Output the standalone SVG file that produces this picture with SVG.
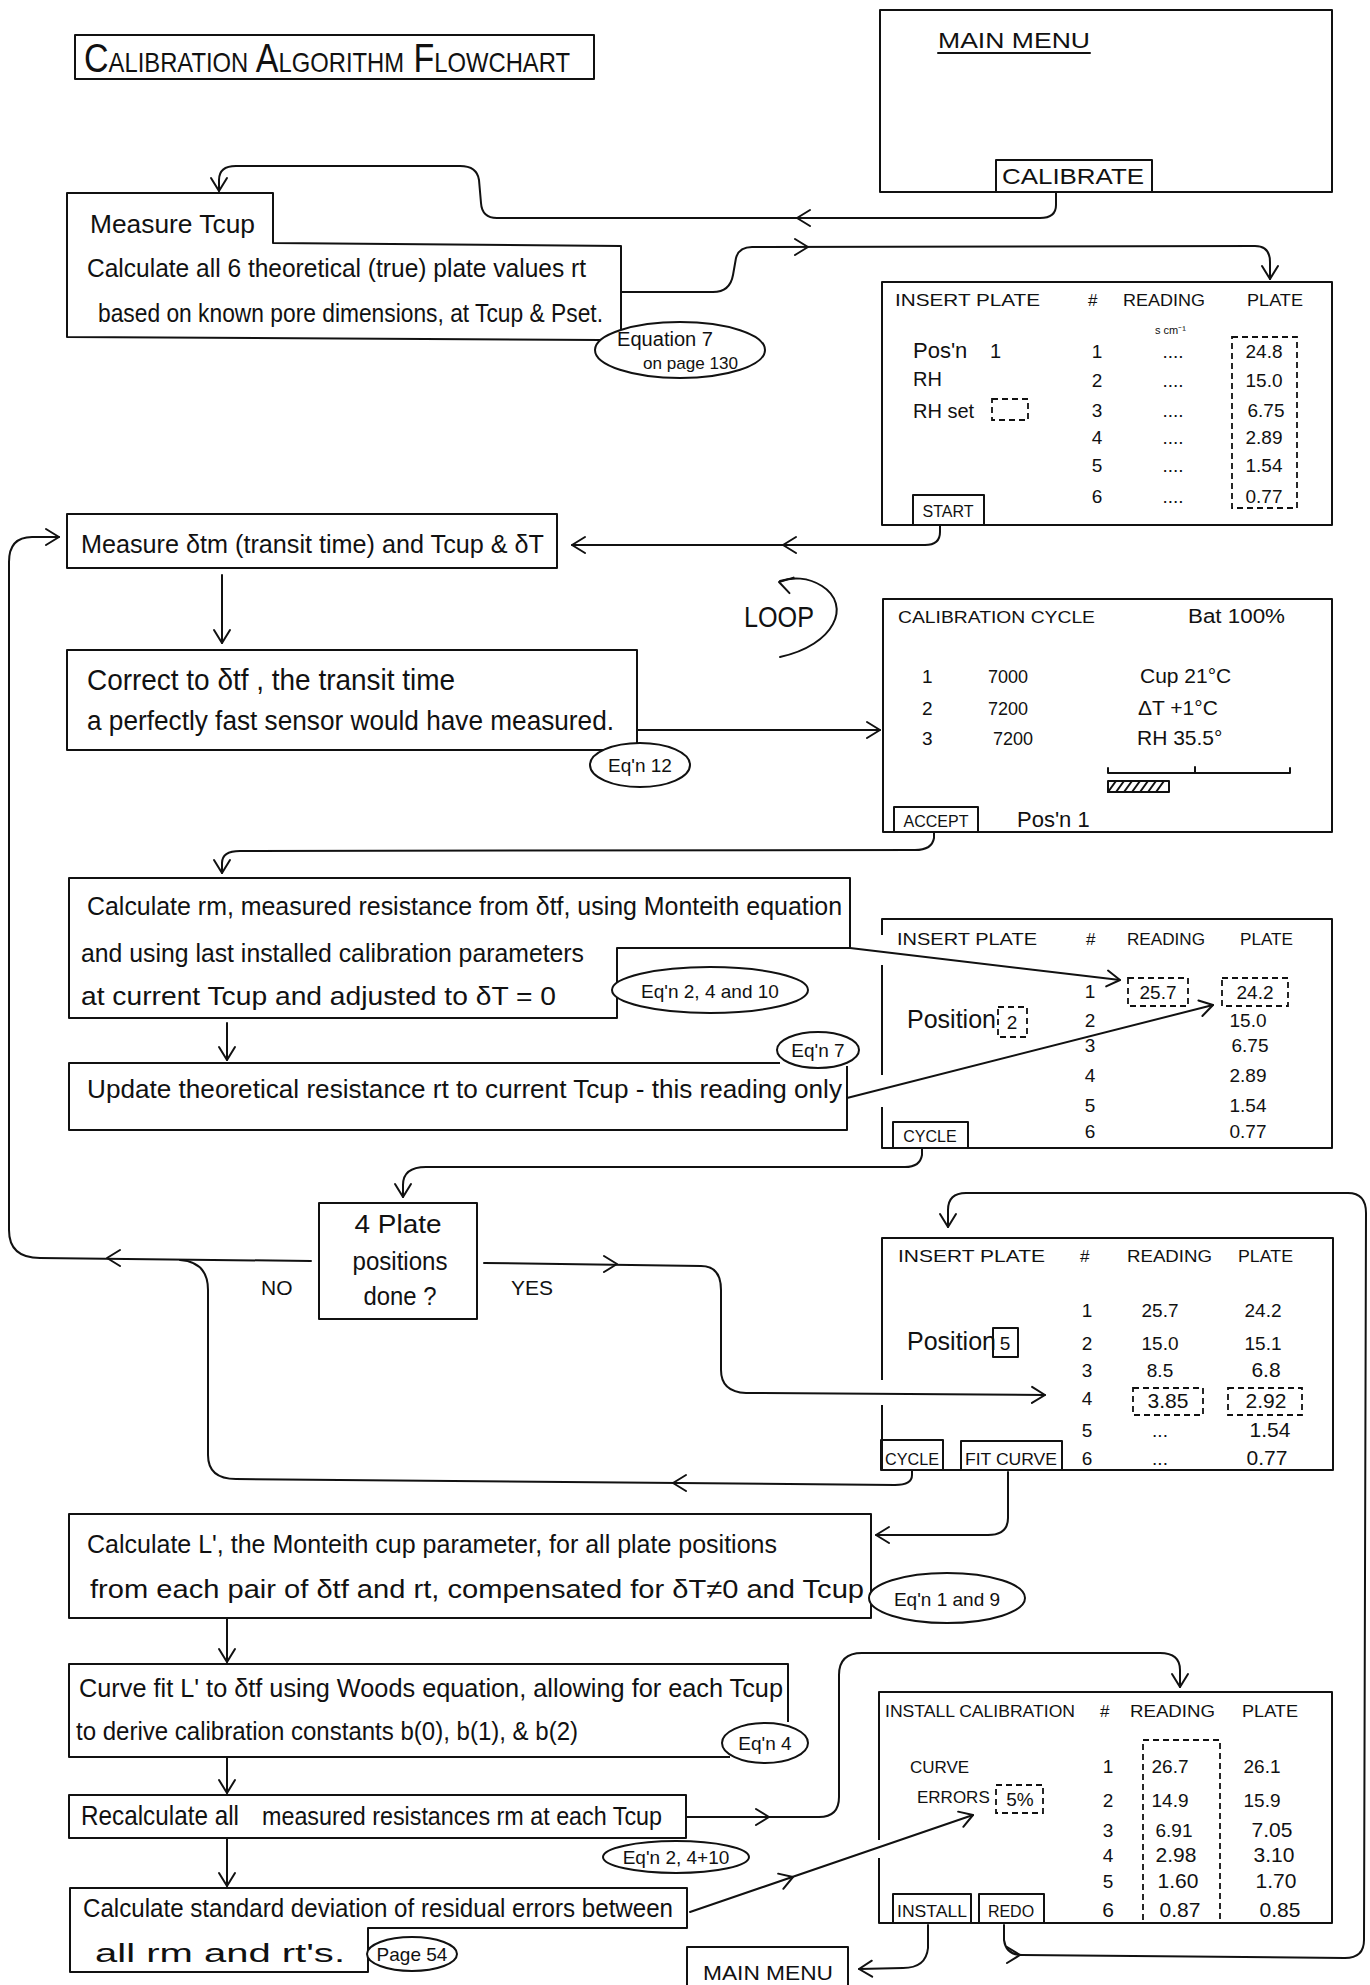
<svg xmlns="http://www.w3.org/2000/svg" xmlns:xlink="http://www.w3.org/1999/xlink" width="1370" height="1985" viewBox="0 0 1370 1985">
<style>
.ln{fill:none;stroke:#111;stroke-width:2;stroke-linecap:round;stroke-linejoin:round}
.bx{fill:none;stroke:#111;stroke-width:2;stroke-linejoin:round}
.ov{fill:#fff;stroke:#111;stroke-width:2}
.dsh{fill:none;stroke:#111;stroke-width:1.8;stroke-dasharray:6 4}
text{font-family:"Liberation Sans",Arial,sans-serif;fill:#111}
.h{font-size:26px}
.sc{font-size:17px}
.n{font-size:19px}
.m{text-anchor:middle}
.e{font-size:19px;text-anchor:middle}
.b{font-size:16px;text-anchor:middle}
</style>
<defs>
<marker id="arr" viewBox="-15 -10 17 20" refX="0" refY="0" markerWidth="17" markerHeight="20" markerUnits="userSpaceOnUse" orient="auto">
<path d="M-13,-8 L0,0 L-13,8" fill="none" stroke="#111" stroke-width="2" stroke-linecap="round" stroke-linejoin="round"/>
</marker>
<path id="ah" d="M-13,-8 L0,0 L-13,8" fill="none" stroke="#111" stroke-width="2" stroke-linecap="round" stroke-linejoin="round"/>
</defs>
<rect width="1370" height="1985" fill="#fff"/>

<g id="connectors">
<path class="ln" marker-end="url(#arr)" d="M1056,192 L1056,205 Q1056,218 1040,218 L497,218 Q482,218 481,203 L479,180 Q477,166 460,166 L236,166 Q219,166 219,180 L219,191"/>
<use xlink:href="#ah" transform="translate(797,218) rotate(180)"/>
<path class="ln" marker-end="url(#arr)" d="M621,292 L713,292 Q730,292 733,275 L736,258 Q739,247 752,247 L1255,246 Q1270,246 1270,262 L1270,279"/>
<use xlink:href="#ah" transform="translate(808,247)"/>
<path class="ln" marker-end="url(#arr)" d="M940,525 L940,532 Q940,545 925,545 L572,545"/>
<use xlink:href="#ah" transform="translate(783,545) rotate(180)"/>
<path class="ln" marker-end="url(#arr)" d="M311,1261 L40,1258 Q9,1258 9,1230 L9,562 Q9,537 32,537 L59,537"/>
<use xlink:href="#ah" transform="translate(107,1258) rotate(180)"/>
<path class="ln" marker-end="url(#arr)" d="M222,575 L222,643"/>
<path class="ln" marker-end="url(#arr)" d="M637,730 L880,730"/>
<path class="ln" d="M780,657 C835,645 852,605 822,586 C808,577 792,577 780,581"/>
<use xlink:href="#ah" transform="translate(779,582) rotate(195)"/>
<path class="ln" marker-end="url(#arr)" d="M934,832 L934,838 Q932,850 915,850 L240,851 Q222,851 222,863 L222,873"/>
<path class="ln" marker-end="url(#arr)" d="M227,1023 L227,1060"/>
<path class="ln" marker-end="url(#arr)" d="M850,948 L1120,980"/>
<path class="ln" marker-end="url(#arr)" d="M847,1098 L1213,1005"/>
<path class="ln" marker-end="url(#arr)" d="M922,1148 L922,1155 Q920,1167 905,1167 L426,1167 Q403,1167 403,1185 L403,1197"/>
<path class="ln" marker-end="url(#arr)" d="M484,1263 L701,1266 Q721,1266 721,1290 L721,1370 Q721,1392 746,1393 L1045,1395"/>
<use xlink:href="#ah" transform="translate(617,1264)"/>
<path class="ln" d="M912,1470 L912,1475 Q912,1485 895,1485 L236,1479 Q208,1479 208,1455 L208,1290 Q208,1262 180,1260"/>
<use xlink:href="#ah" transform="translate(673,1483) rotate(180)"/>
<path class="ln" marker-end="url(#arr)" d="M1008,1472 L1008,1518 Q1008,1535 988,1535 L876,1535"/>
<path class="ln" marker-end="url(#arr)" d="M227,1618 L227,1662"/>
<path class="ln" marker-end="url(#arr)" d="M227,1757 L227,1793"/>
<path class="ln" marker-end="url(#arr)" d="M687,1817 L819,1817 Q839,1817 839,1797 L839,1675 Q839,1653 862,1653 L1160,1653 Q1180,1653 1180,1670 L1180,1687"/>
<use xlink:href="#ah" transform="translate(769,1817)"/>
<path class="ln" marker-end="url(#arr)" d="M227,1838 L227,1886"/>
<path class="ln" marker-end="url(#arr)" d="M690,1912 L973,1815"/>
<use xlink:href="#ah" transform="translate(793,1877) rotate(-18.9)"/>
<path class="ln" marker-end="url(#arr)" d="M928,1925 L928,1948 Q926,1968 903,1968 L859,1969"/>
<path class="ln" marker-end="url(#arr)" d="M1004,1925 L1004,1940 Q1006,1955 1022,1955 L1345,1958 Q1364,1958 1364,1940 L1366,1213 Q1366,1193 1348,1193 L966,1193 Q948,1193 948,1210 L948,1227"/>
<use xlink:href="#ah" transform="translate(1020,1955)"/>
</g>

<g id="title">
<rect class="bx" x="75" y="35" width="519" height="44"/>
<text x="84" y="72" textLength="486" lengthAdjust="spacingAndGlyphs" font-size="40" font-variant="small-caps" style="font-variant:small-caps">Calibration Algorithm Flowchart</text>
</g>

<g id="main-menu">
<rect class="bx" x="880" y="10" width="452" height="182"/>
<text x="938" y="48" font-size="22" textLength="152" lengthAdjust="spacingAndGlyphs">MAIN MENU</text>
<line class="ln" x1="938" y1="53" x2="1090" y2="53"/>
<rect class="bx" x="996" y="160" width="156" height="32" fill="#fff"/>
<text x="1002" y="184" font-size="22" textLength="142" lengthAdjust="spacingAndGlyphs">CALIBRATE</text>
</g>

<g id="measure-tcup">
<path class="bx" d="M600,340 L67,337 L67,193 L273,193 L273,243 L621,246 L621,335"/>
<text class="h" x="90" y="233" textLength="165" lengthAdjust="spacingAndGlyphs">Measure  Tcup</text>
<text class="h" x="87" y="277" textLength="499" lengthAdjust="spacingAndGlyphs">Calculate all 6 theoretical (true) plate values rt</text>
<text class="h" x="98" y="322" textLength="505" lengthAdjust="spacingAndGlyphs">based on known pore dimensions, at Tcup &amp; Pset.</text>
<ellipse class="ov" cx="680" cy="350" rx="85" ry="28"/>
<text x="617" y="346" font-size="20" textLength="96" lengthAdjust="spacingAndGlyphs">Equation 7</text>
<text x="643" y="369" font-size="17" textLength="95" lengthAdjust="spacingAndGlyphs">on page 130</text>
</g>

<g id="screen-insert-1">
<rect class="bx" x="882" y="282" width="450" height="243"/>
<text class="sc" x="895" y="306" textLength="145" lengthAdjust="spacingAndGlyphs">INSERT  PLATE</text>
<text class="sc" x="1088" y="306">#</text>
<text class="sc" x="1123" y="306" textLength="82" lengthAdjust="spacingAndGlyphs">READING</text>
<text class="sc" x="1247" y="306" textLength="56" lengthAdjust="spacingAndGlyphs">PLATE</text>
<text x="1155" y="334" font-size="11">s cm⁻¹</text>
<text x="913" y="358" font-size="22">Pos'n</text>
<text x="990" y="358" font-size="20">1</text>
<text x="913" y="386" font-size="20">RH</text>
<text x="913" y="418" font-size="20">RH set</text>
<rect class="dsh" x="992" y="399" width="36" height="21"/>
<g class="n m">
<text x="1097" y="358">1</text><text x="1097" y="387">2</text><text x="1097" y="417">3</text><text x="1097" y="444">4</text><text x="1097" y="472">5</text><text x="1097" y="503">6</text>
<text x="1173" y="358">....</text><text x="1173" y="387">....</text><text x="1173" y="417">....</text><text x="1173" y="444">....</text><text x="1173" y="472">....</text><text x="1173" y="503">....</text>
<text x="1264" y="358">24.8</text><text x="1264" y="387">15.0</text><text x="1266" y="417">6.75</text><text x="1264" y="444">2.89</text><text x="1264" y="472">1.54</text><text x="1264" y="503">0.77</text>
</g>
<rect class="dsh" x="1232" y="337" width="65" height="171"/>
<rect class="bx" x="913" y="495" width="71" height="30" fill="#fff"/>
<text class="b" x="948" y="517">START</text>
</g>

<g id="measure-dtm">
<rect class="bx" x="67" y="514" width="490" height="54"/>
<text class="h" x="81" y="553" textLength="463" lengthAdjust="spacingAndGlyphs">Measure  δtm (transit time)  and  Tcup &amp; δT</text>
</g>

<g id="loop-label">
<text x="744" y="627" font-size="29" textLength="70" lengthAdjust="spacingAndGlyphs">LOOP</text>
</g>

<g id="correct">
<rect class="bx" x="67" y="650" width="570" height="100"/>
<text x="87" y="690" font-size="30" textLength="368" lengthAdjust="spacingAndGlyphs">Correct to δtf , the transit time</text>
<text x="87" y="730" font-size="27" textLength="527" lengthAdjust="spacingAndGlyphs">a perfectly fast sensor would have measured.</text>
<ellipse class="ov" cx="640" cy="765" rx="50" ry="22"/>
<text class="e" x="640" y="772" font-size="20">Eq'n 12</text>
</g>

<g id="screen-cycle">
<rect class="bx" x="883" y="599" width="449" height="233"/>
<text class="sc" x="898" y="623" textLength="197" lengthAdjust="spacingAndGlyphs">CALIBRATION  CYCLE</text>
<text x="1188" y="623" font-size="20" textLength="97" lengthAdjust="spacingAndGlyphs">Bat 100%</text>
<text x="922" y="683" font-size="19">1</text><text x="988" y="683" font-size="18">7000</text>
<text x="922" y="715" font-size="19">2</text><text x="988" y="715" font-size="18">7200</text>
<text x="922" y="745" font-size="19">3</text><text x="993" y="745" font-size="18">7200</text>
<text x="1140" y="683" font-size="21">Cup  21°C</text>
<text x="1138" y="715" font-size="21">ΔT  +1°C</text>
<text x="1137" y="745" font-size="21">RH  35.5°</text>
<path class="ln" d="M1108,768 L1108,773 L1290,773 L1290,768 M1195,773 L1195,767"/>
<rect class="bx" x="1108" y="781" width="61" height="11"/>
<path class="ln" stroke-width="1.5" d="M1108,792 L1116,781 M1116,792 L1124,781 M1124,792 L1132,781 M1132,792 L1140,781 M1140,792 L1148,781 M1148,792 L1156,781 M1156,792 L1164,781"/>
<rect class="bx" x="894" y="807" width="84" height="25" fill="#fff"/>
<text class="b" x="936" y="827">ACCEPT</text>
<text x="1017" y="827" font-size="22">Pos'n 1</text>
</g>

<g id="calc-rm">
<path class="bx" d="M69,878 L850,878 L850,948 L617,948 L617,1018 L69,1018 Z"/>
<text class="h" x="87" y="915" textLength="755" lengthAdjust="spacingAndGlyphs">Calculate rm, measured resistance from δtf, using Monteith equation</text>
<text class="h" x="81" y="962" textLength="503" lengthAdjust="spacingAndGlyphs">and using last installed calibration parameters</text>
<text class="h" x="81" y="1005" textLength="475" lengthAdjust="spacingAndGlyphs">at current Tcup and adjusted to δT = 0</text>
<ellipse class="ov" cx="710" cy="990" rx="98" ry="23"/>
<text class="e" x="710" y="998" font-size="21">Eq'n 2, 4 and 10</text>
</g>

<g id="update">
<path class="bx" d="M780,1063 L69,1063 L69,1130 L847,1130 L847,1066"/>
<text class="h" x="87" y="1098" textLength="755" lengthAdjust="spacingAndGlyphs">Update  theoretical resistance rt to current Tcup - this reading only</text>
<ellipse class="ov" cx="818" cy="1050" rx="41" ry="18"/>
<text class="e" x="818" y="1057" font-size="18">Eq'n 7</text>
</g>

<g id="screen-insert-2">
<path class="bx" d="M882,935 L882,919 L1332,919 L1332,1148 L882,1148 L882,1107 M882,1075 L882,965"/>
<text class="sc" x="897" y="945" textLength="140" lengthAdjust="spacingAndGlyphs">INSERT PLATE</text>
<text class="sc" x="1086" y="945">#</text>
<text class="sc" x="1127" y="945" textLength="78" lengthAdjust="spacingAndGlyphs">READING</text>
<text class="sc" x="1240" y="945" textLength="53" lengthAdjust="spacingAndGlyphs">PLATE</text>
<text x="907" y="1028" font-size="25">Position</text>
<rect class="dsh" x="998" y="1007" width="29" height="30"/>
<text class="n m" x="1012" y="1029">2</text>
<g class="n m">
<text x="1090" y="998">1</text><text x="1090" y="1027">2</text><text x="1090" y="1052">3</text><text x="1090" y="1082">4</text><text x="1090" y="1112">5</text><text x="1090" y="1138">6</text>
<text x="1158" y="999">25.7</text><text x="1255" y="999">24.2</text>
<text x="1248" y="1027">15.0</text><text x="1250" y="1052">6.75</text><text x="1248" y="1082">2.89</text><text x="1248" y="1112">1.54</text><text x="1248" y="1138">0.77</text>
</g>
<rect class="dsh" x="1128" y="978" width="60" height="28"/>
<rect class="dsh" x="1222" y="978" width="66" height="28"/>
<rect class="bx" x="893" y="1122" width="75" height="26" fill="#fff"/>
<text class="b" x="930" y="1142">CYCLE</text>
</g>

<g id="decision">
<rect class="bx" x="319" y="1203" width="158" height="116"/>
<text class="h m" x="398" y="1233" textLength="87" lengthAdjust="spacingAndGlyphs">4 Plate</text>
<text class="h m" x="400" y="1270" textLength="95" lengthAdjust="spacingAndGlyphs">positions</text>
<text class="h m" x="400" y="1305" textLength="73" lengthAdjust="spacingAndGlyphs">done ?</text>
<text x="261" y="1295" font-size="21">NO</text>
<text x="511" y="1295" font-size="21">YES</text>
</g>

<g id="screen-insert-3">
<path class="bx" d="M882,1380 L882,1238 L1333,1238 L1333,1470 L882,1470 L882,1405"/>
<text class="sc" x="898" y="1262" textLength="147" lengthAdjust="spacingAndGlyphs">INSERT  PLATE</text>
<text class="sc" x="1080" y="1262">#</text>
<text class="sc" x="1127" y="1262" textLength="85" lengthAdjust="spacingAndGlyphs">READING</text>
<text class="sc" x="1238" y="1262" textLength="55" lengthAdjust="spacingAndGlyphs">PLATE</text>
<text x="907" y="1350" font-size="25">Position</text>
<rect class="bx" x="993" y="1328" width="25" height="29"/>
<text class="n m" x="1005" y="1350">5</text>
<g class="n m">
<text x="1087" y="1317">1</text><text x="1087" y="1350">2</text><text x="1087" y="1377">3</text><text x="1087" y="1405">4</text><text x="1087" y="1437">5</text><text x="1087" y="1465">6</text>
<text x="1160" y="1317">25.7</text><text x="1160" y="1350">15.0</text><text x="1160" y="1377">8.5</text><text x="1168" y="1408" font-size="21">3.85</text><text x="1160" y="1437">...</text><text x="1160" y="1465">...</text>
<text x="1263" y="1317">24.2</text><text x="1263" y="1350">15.1</text><text x="1266" y="1377" font-size="21">6.8</text><text x="1266" y="1408" font-size="21">2.92</text><text x="1270" y="1437" font-size="21">1.54</text><text x="1267" y="1465" font-size="21">0.77</text>
</g>
<rect class="dsh" x="1133" y="1388" width="70" height="27"/>
<rect class="dsh" x="1228" y="1388" width="74" height="27"/>
<rect class="bx" x="881" y="1440" width="62" height="30" fill="#fff"/>
<text class="b" x="912" y="1465" textLength="54" lengthAdjust="spacingAndGlyphs">CYCLE</text>
<rect class="bx" x="961" y="1441" width="101" height="29" fill="#fff"/>
<text class="b" x="1011" y="1465" textLength="92" lengthAdjust="spacingAndGlyphs">FIT CURVE</text>
</g>

<g id="calc-l">
<rect class="bx" x="69" y="1514" width="802" height="104"/>
<text class="h" x="87" y="1553" textLength="690" lengthAdjust="spacingAndGlyphs">Calculate L', the Monteith cup parameter,  for all plate positions</text>
<text class="h" x="90" y="1598" textLength="774" lengthAdjust="spacingAndGlyphs">from each pair of δtf and rt, compensated for δT≠0 and Tcup</text>
<ellipse class="ov" cx="947" cy="1598" rx="78" ry="25"/>
<text class="e" x="947" y="1606" font-size="22">Eq'n 1 and 9</text>
</g>

<g id="curve-fit">
<path class="bx" d="M788,1722 L788,1664 L69,1664 L69,1757 L730,1757"/>
<text class="h" x="79" y="1697" textLength="704" lengthAdjust="spacingAndGlyphs">Curve fit L' to δtf using Woods equation, allowing for each Tcup</text>
<text class="h" x="76" y="1740" textLength="502" lengthAdjust="spacingAndGlyphs">to derive calibration constants b(0), b(1), &amp; b(2)</text>
<ellipse class="ov" cx="765" cy="1743" rx="43" ry="20"/>
<text class="e" x="765" y="1750">Eq'n 4</text>
</g>

<g id="recalc">
<rect class="bx" x="69" y="1795" width="617" height="43"/>
<text x="81" y="1825" font-size="28" textLength="158" lengthAdjust="spacingAndGlyphs">Recalculate  all</text>
<text class="h" x="262" y="1825" textLength="400" lengthAdjust="spacingAndGlyphs">measured resistances rm at each Tcup</text>
<ellipse class="ov" cx="676" cy="1857" rx="73" ry="16"/>
<text class="e" x="676" y="1864">Eq'n 2, 4+10</text>
</g>

<g id="calc-std">
<path class="bx" d="M70,1888 L687,1888 L687,1928 L368,1928 L368,1972 L70,1972 Z"/>
<text class="h" x="83" y="1917" textLength="590" lengthAdjust="spacingAndGlyphs">Calculate  standard deviation of residual errors between</text>
<text x="95" y="1962" font-size="26" textLength="250" lengthAdjust="spacingAndGlyphs">all  rm and rt's.</text>
<ellipse class="ov" cx="412" cy="1954" rx="45" ry="17"/>
<text class="e" x="412" y="1961" font-size="18">Page 54</text>
</g>

<g id="screen-install">
<path class="bx" d="M879,1840 L879,1692 L1332,1692 L1332,1923 L879,1923 L879,1858"/>
<text class="sc" x="885" y="1717" textLength="190" lengthAdjust="spacingAndGlyphs">INSTALL CALIBRATION</text>
<text class="sc" x="1100" y="1717">#</text>
<text class="sc" x="1130" y="1717" textLength="85" lengthAdjust="spacingAndGlyphs">READING</text>
<text class="sc" x="1242" y="1717" textLength="56" lengthAdjust="spacingAndGlyphs">PLATE</text>
<text class="sc" x="910" y="1773">CURVE</text>
<text class="sc" x="917" y="1803">ERRORS</text>
<rect class="dsh" x="996" y="1785" width="47" height="28"/>
<text class="n m" x="1020" y="1806">5%</text>
<g class="n m">
<text x="1108" y="1773">1</text><text x="1108" y="1807">2</text><text x="1108" y="1837">3</text><text x="1108" y="1862">4</text><text x="1108" y="1888">5</text><text x="1108" y="1917" font-size="21">6</text>
<text x="1170" y="1773">26.7</text><text x="1170" y="1807">14.9</text><text x="1174" y="1837">6.91</text><text x="1176" y="1862" font-size="21">2.98</text><text x="1178" y="1888" font-size="21">1.60</text><text x="1180" y="1917" font-size="21">0.87</text>
<text x="1262" y="1773">26.1</text><text x="1262" y="1807">15.9</text><text x="1272" y="1837" font-size="21">7.05</text><text x="1274" y="1862" font-size="21">3.10</text><text x="1276" y="1888" font-size="21">1.70</text><text x="1280" y="1917" font-size="21">0.85</text>
</g>
<path class="dsh" d="M1143,1920 L1143,1740 L1220,1740 L1220,1920"/>
<rect class="bx" x="893" y="1894" width="78" height="29" fill="#fff"/>
<text class="b" x="932" y="1917" textLength="70" lengthAdjust="spacingAndGlyphs">INSTALL</text>
<rect class="bx" x="979" y="1894" width="65" height="29" fill="#fff"/>
<text class="b" x="1011" y="1917">REDO</text>
</g>

<g id="main-menu-2">
<path class="bx" d="M687,1985 L687,1947 L848,1947 L848,1985"/>
<text x="703" y="1980" font-size="21" textLength="130" lengthAdjust="spacingAndGlyphs">MAIN MENU</text>
</g>
</svg>
